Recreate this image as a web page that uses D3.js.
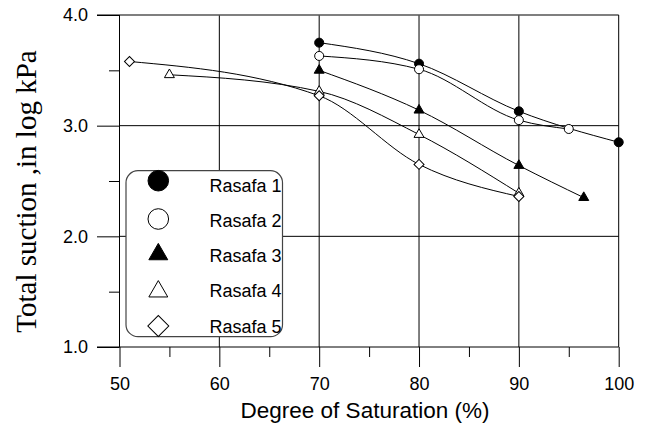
<!DOCTYPE html>
<html><head><meta charset="utf-8">
<script src="https://cdn.jsdelivr.net/npm/d3@7"></script>
<style>html,body{margin:0;padding:0;background:#fff;}svg{display:block;}</style>
</head><body>
<svg id="chart" width="651" height="430"></svg>
<script>
const seriesNames = ["Rasafa 1","Rasafa 2","Rasafa 3","Rasafa 4","Rasafa 5"];
const r1x = [70,80,90,100],  r1y = [3.75,3.56,3.13,2.85];
const r2x = [70,80,90,95],   r2y = [3.63,3.51,3.05,2.97];
const r3x = [70,80,90,96.5], r3y = [3.50,3.14,2.64,2.35];
const r4x = [55,70,80,90],   r4y = [3.46,3.31,2.92,2.39];
const r5x = [51,70,80,90],   r5y = [3.58,3.27,2.65,2.36];
const xTicks = [50,60,70,80,90,100];
const xMinor = [55,65,75,85,95];
const yTicks = [1.0,2.0,3.0,4.0];
const yMinor = [1.5,2.5,3.5];
const xTitle = "Degree of Saturation (%)";
const yTitle = "Total suction ,in log kPa";

const series = [
  {name:seriesNames[0], xs:r1x, ys:r1y, sym:"circle", fill:true},
  {name:seriesNames[1], xs:r2x, ys:r2y, sym:"circle", fill:false},
  {name:seriesNames[2], xs:r3x, ys:r3y, sym:"triangle", fill:true},
  {name:seriesNames[3], xs:r4x, ys:r4y, sym:"triangle", fill:false},
  {name:seriesNames[4], xs:r5x, ys:r5y, sym:"diamond", fill:false}
];

const svg = d3.select("#chart");
const L = 119.5, R = 618.7, T = 15, B = 347;
const x = d3.scaleLinear().domain([50,100]).range([L,R]);
const y = d3.scaleLinear().domain([1,4]).range([B,T]);
const sans = "Arial, 'Liberation Sans', sans-serif";
const serif = "'Times New Roman', 'Liberation Serif', serif";

// gridlines
svg.append("g").selectAll("line").data(xTicks.filter(d=>d>50&&d<100)).join("line")
  .attr("x1",d=>x(d)).attr("x2",d=>x(d)).attr("y1",T).attr("y2",B)
  .attr("stroke","#000").attr("stroke-width",1);
svg.append("g").selectAll("line").data(yTicks.filter(d=>d>1&&d<4)).join("line")
  .attr("x1",L).attr("x2",R).attr("y1",d=>y(d)).attr("y2",d=>y(d))
  .attr("stroke","#000").attr("stroke-width",1);

// frame
svg.append("line").attr("x1",L-22.5).attr("x2",R).attr("y1",T).attr("y2",T).attr("stroke","#555").attr("stroke-width",1.5);
svg.append("line").attr("x1",R).attr("x2",R).attr("y1",T).attr("y2",B).attr("stroke","#000").attr("stroke-width",1);

// axes
const xAxis = d3.axisBottom(x).tickValues(xTicks).tickSize(20).tickFormat(d3.format("d")).tickSizeOuter(0);
const gx = svg.append("g").attr("transform",`translate(0,${B})`).call(xAxis);
gx.select(".domain").remove();
gx.selectAll(".tick line").attr("stroke","#000");
gx.selectAll(".tick text").attr("font-family",sans).attr("font-size",18).attr("fill","#000").attr("dy",null).attr("y",43);
const gxm = svg.append("g").attr("transform",`translate(0,${B})`).call(d3.axisBottom(x).tickValues(xMinor).tickSize(10).tickFormat(""));
gxm.select(".domain").remove();
gxm.selectAll(".tick line").attr("stroke","#000");
svg.append("line").attr("x1",L-22.5).attr("x2",R).attr("y1",B).attr("y2",B).attr("stroke","#000");

const yAxis = d3.axisLeft(y).tickValues(yTicks).tickSize(22.5).tickFormat(d3.format(".1f")).tickPadding(9);
const gy = svg.append("g").attr("transform",`translate(${L},0)`).call(yAxis);
gy.select(".domain").remove();
gy.selectAll(".tick line").attr("stroke","#000");
gy.selectAll(".tick text").attr("font-family",sans).attr("font-size",18).attr("fill","#000");
const gym = svg.append("g").attr("transform",`translate(${L},0)`).call(d3.axisLeft(y).tickValues(yMinor).tickSize(10.5).tickFormat(""));
gym.select(".domain").remove();
gym.selectAll(".tick line").attr("stroke","#000");
svg.append("line").attr("x1",L).attr("x2",L).attr("y1",T).attr("y2",B).attr("stroke","#000");

// titles
svg.append("text").attr("x",365).attr("y",418).attr("text-anchor","middle")
  .attr("font-family",sans).attr("font-size",22.5).attr("fill","#000").text(xTitle);
svg.append("text").attr("transform","translate(36,191.5) rotate(-90)").attr("text-anchor","middle")
  .attr("font-family",serif).attr("font-size",29).attr("fill","#000").text(yTitle);

// curves
const line = d3.line().curve(d3.curveMonotoneX).x(d=>x(d[0])).y(d=>y(d[1]));
series.forEach(s=>{
  const pts = s.xs.map((v,i)=>[v,s.ys[i]]);
  svg.append("path").attr("d",line(pts)).attr("fill","none").attr("stroke","#000").attr("stroke-width",1);
});

function symPath(type, scale){
  if(type==="circle") return d3.symbol(d3.symbolCircle, 64*scale)();
  if(type==="triangle") return d3.symbol(d3.symbolTriangle, 43*scale)();
  return d3.symbol(d3.symbolSquare, 50*scale)();
}
function symRot(type){ return type==="diamond" ? " rotate(45)" : ""; }

series.forEach(s=>{
  svg.append("g").selectAll("path").data(s.xs.map((v,i)=>[v,s.ys[i]])).join("path")
    .attr("d",symPath(s.sym,1))
    .attr("transform",d=>`translate(${x(d[0])},${y(d[1])})${symRot(s.sym)}`)
    .attr("fill",s.fill?"#000":"#fff").attr("stroke","#000").attr("stroke-width",1);
});

// legend
const lg = svg.append("g");
lg.append("rect").attr("x",126).attr("y",170.7).attr("width",156.5).attr("height",166)
  .attr("rx",12).attr("ry",12).attr("fill","#fff").attr("stroke","#444").attr("stroke-width",1.2);
const symY = [180.7,219,254.3,291.5,326];
const legScale = {circle:5.2, triangle:3.6, diamond:4.4};
series.forEach((s,i)=>{
  lg.append("path").attr("d",symPath(s.sym,legScale[s.sym]))
    .attr("transform",`translate(158.3,${symY[i]})${symRot(s.sym)}`)
    .attr("fill",s.fill?"#000":"#fff").attr("stroke","#000").attr("stroke-width",1);
  lg.append("text").attr("x",209.5).attr("y",191.5+i*35.3).attr("font-family",sans)
    .attr("font-size",18).attr("fill","#000").text(s.name);
});
</script>
</body></html>
